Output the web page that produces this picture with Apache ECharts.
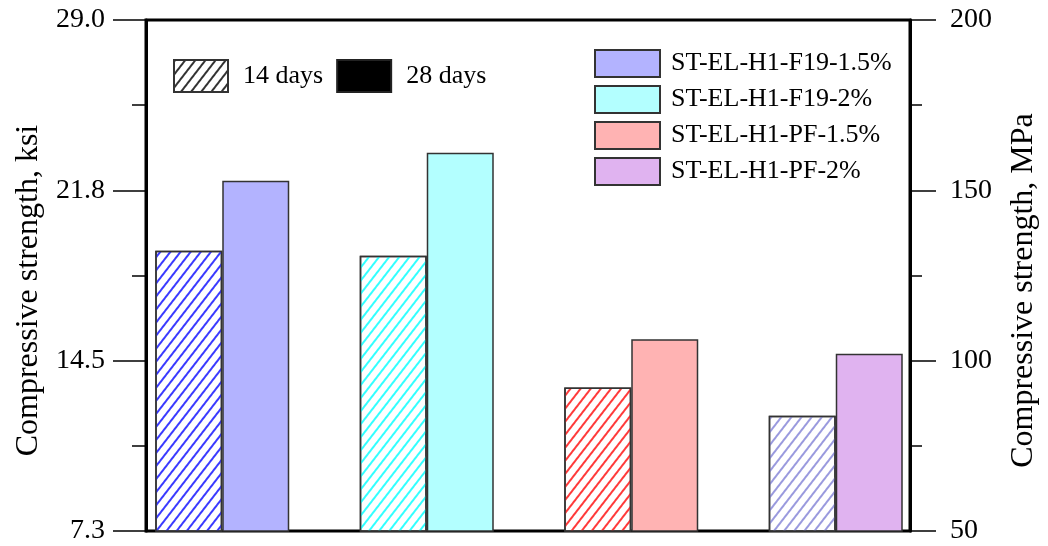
<!DOCTYPE html>
<html>
<head>
<meta charset="utf-8">
<script src="https://cdn.jsdelivr.net/npm/echarts@6/dist/echarts.min.js"></script>
<style>
html,body{margin:0;padding:0;background:#fff;}
#chart{width:1048px;height:546px;}
</style>
</head>
<body>
<div id="chart"></div>
<script>
// ---- data ----
const categories = ['ST-EL-H1-F19-1.5%', 'ST-EL-H1-F19-2%', 'ST-EL-H1-PF-1.5%', 'ST-EL-H1-PF-2%'];
const days14 = [132.3, 130.8, 92.1, 83.8];   // MPa
const days28 = [152.8, 161.0, 106.3, 102.0]; // MPa
const ksiTickLabels = ['7.3', '14.5', '21.8', '29.0'];
const mpaTickLabels = ['50', '100', '150', '200'];
const seriesNames = ['14 days', '28 days'];

// ---- styles ----
const fillColors = ['#b3b3ff', '#b3ffff', '#ffb3b3', '#e0b3f0'];
const hatchColors = ['#3a3aff', '#33ffff', '#ff3a3a', '#9a9ade'];
const FONT = 'Liberation Serif, Times New Roman, serif';

function hatch(color) {
  return {
    symbol: 'rect', symbolSize: 1,
    dashArrayX: [1, 0], dashArrayY: [1.6, 6],
    rotation: -Math.PI * 0.29,
    color: color
  };
}

const chart = echarts.init(document.getElementById('chart'), null, {renderer: 'canvas'});

const mpaMin = 50, mpaMax = 200, mpaStep = 50;

const yCommon = {
  type: 'value', min: mpaMin, max: mpaMax, interval: mpaStep,
  splitLine: {show: false},
  axisLine: {show: true, lineStyle: {color: '#000', width: 3}},
  minorTick: {show: true, splitNumber: 2, lineStyle: {color: '#000', width: 1.5}},
  minorSplitLine: {show: false}
};

const option = {
  backgroundColor: '#fff',
  animation: false,
  grid: [
    {left: 120, right: 110, top: 20, bottom: 15},
    {left: 146, right: 133, top: 20, bottom: 15, show: true, borderColor: '#000', borderWidth: 3, backgroundColor: 'transparent'}
  ],
  xAxis: [
    {type: 'category', gridIndex: 0, data: categories, show: false},
    {type: 'category', gridIndex: 1, data: categories, show: false}
  ],
  yAxis: [
    {type: 'value', gridIndex: 0, min: mpaMin, max: mpaMax, show: false},
    Object.assign({}, yCommon, {
      gridIndex: 1, position: 'left',
      axisTick: {show: true, length: 33, lineStyle: {color: '#000', width: 1.5}},
      minorTick: {show: true, splitNumber: 2, length: 14, lineStyle: {color: '#000', width: 1.5}},
      axisLabel: {
        margin: 41, color: '#000', fontFamily: FONT, fontSize: 28,
        formatter: function (v) { return ksiTickLabels[Math.round((v - mpaMin) / mpaStep)]; }
      },
      name: 'Compressive strength, ksi', nameLocation: 'middle', nameRotate: 90, nameGap: 101,
      nameTextStyle: {color: '#000', fontFamily: FONT, fontSize: 32, padding: [0, 30, 0, 0]}
    }),
    Object.assign({}, yCommon, {
      gridIndex: 1, position: 'right',
      axisTick: {show: true, length: 26, lineStyle: {color: '#000', width: 1.5}},
      minorTick: {show: true, splitNumber: 2, length: 12, lineStyle: {color: '#000', width: 1.5}},
      axisLabel: {
        margin: 40, color: '#000', fontFamily: FONT, fontSize: 28,
        formatter: function (v) { return mpaTickLabels[Math.round((v - mpaMin) / mpaStep)]; }
      },
      name: 'Compressive strength, MPa', nameLocation: 'middle', nameRotate: 90, nameGap: 98,
      nameTextStyle: {color: '#000', fontFamily: FONT, fontSize: 32, padding: [0, 30, 0, 0]}
    })
  ],
  legend: [
    {
      data: seriesNames, orient: 'horizontal', left: 168, top: 54,
      itemWidth: 54, itemHeight: 32, itemGap: 13, selectedMode: false, icon: 'rect',
      textStyle: {color: '#000', fontFamily: FONT, fontSize: 26, padding: [0, 0, 0, 10]}
    },
    {
      data: categories, orient: 'vertical', left: 589, top: 44,
      itemWidth: 65, itemHeight: 27, itemGap: 7, selectedMode: false, icon: 'rect',
      textStyle: {color: '#000', fontFamily: FONT, fontSize: 26, lineHeight: 27, padding: [0, 0, 0, 6]}
    }
  ],
  series: [
    {
      name: seriesNames[0], type: 'bar', xAxisIndex: 0, yAxisIndex: 0,
      barWidth: 67, barGap: '0%',
      itemStyle: {color: '#fff', borderColor: '#333', borderWidth: 1.5, decal: hatch('#333')},
      data: days14.map(function (v, i) {
        return {value: v, itemStyle: {color: '#fff', borderColor: '#333', borderWidth: 1.5, decal: hatch(hatchColors[i])}};
      })
    },
    {
      name: seriesNames[1], type: 'bar', xAxisIndex: 0, yAxisIndex: 0,
      barWidth: 67, barGap: '0%',
      itemStyle: {color: '#000', borderColor: '#222', borderWidth: 1.5},
      data: days28.map(function (v, i) {
        return {value: v, itemStyle: {color: fillColors[i], borderColor: '#333', borderWidth: 1.5}};
      })
    }
  ].concat(categories.map(function (c, i) {
    return {
      name: c, type: 'bar', xAxisIndex: 1, yAxisIndex: 1, data: [],
      itemStyle: {color: fillColors[i], borderColor: '#333', borderWidth: 1.5}
    };
  }))
};

chart.setOption(option);
</script>
</body>
</html>
